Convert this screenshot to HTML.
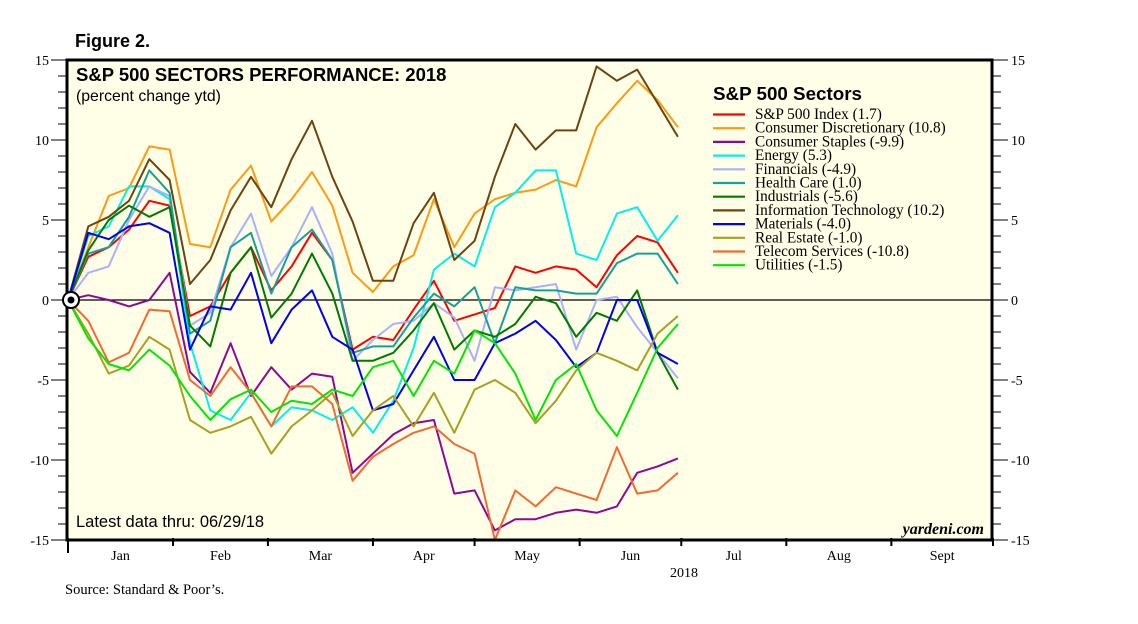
<!DOCTYPE html>
<html><head><meta charset="utf-8">
<style>
body{margin:0;background:#fff;}
svg{display:block;}
.sans{font-family:"Liberation Sans",sans-serif;}
.serif{font-family:"Liberation Serif",serif;}
</style></head>
<body>
<svg id="chart" width="1138" height="624" xmlns="http://www.w3.org/2000/svg">
<text x="75" y="47" class="sans" font-size="18" font-weight="bold">Figure 2.</text>
<rect x="67" y="60" width="925" height="480" fill="#fffee6" stroke="none"/>
<g id="grid"></g>
<g id="series"></g>
<rect x="67" y="60" width="925" height="480" fill="none" stroke="#000" stroke-width="3"/>
<text x="76" y="81" class="sans" font-size="18.5" font-weight="bold">S&amp;P 500 SECTORS PERFORMANCE: 2018</text>
<text x="76" y="101" class="sans" font-size="15.8">(percent change ytd)</text>
<text x="76" y="527" class="sans" font-size="16.5">Latest data thru: 06/29/18</text>
<text x="984" y="534" class="serif" font-size="16" font-style="italic" font-weight="bold" text-anchor="end">yardeni.com</text>
<text x="713" y="100" class="sans" font-size="18.8" font-weight="bold">S&amp;P 500 Sectors</text>
<g id="legend"></g>
<g id="axes"></g>
<text x="684" y="577" class="serif" font-size="14" text-anchor="middle">2018</text>
<text x="65" y="594" class="serif" font-size="14.5">Source: Standard &amp; Poor’s.</text>
<circle cx="71" cy="300" r="8" fill="#fff" stroke="#000" stroke-width="2"/>
<circle cx="71" cy="300" r="3.5" fill="#000"/>
</svg>
<script>
// days since Jan 1 for each observation
const days = [0,6,12,18,24,30,36,42,48,54,60,66,72,78,84,90,96,102,108,114,120,126,132,138,144,150,156,162,168,174,180];
const seriesNames = ["S&P 500 Index (1.7)","Consumer Discretionary (10.8)","Consumer Staples (-9.9)","Energy (5.3)","Financials (-4.9)","Health Care (1.0)","Industrials (-5.6)","Information Technology (10.2)","Materials (-4.0)","Real Estate (-1.0)","Telecom Services (-10.8)","Utilities (-1.5)"];
const seriesColors = ["#ff0000","#ff9a10","#8e0898","#00f0f0","#aab0ff","#15a0a0","#007a00","#6e4410","#0000f0","#a8a020","#f26a30","#00e800"];
const spx  = [0,2.7,3.3,4.4,6.2,5.9,-1.0,-0.4,1.7,3.3,0.6,2.1,4.2,2.5,-3.1,-2.3,-2.5,-0.6,1.2,-1.3,-0.9,-0.5,2.1,1.7,2.1,1.9,0.8,2.8,4.0,3.6,1.7];
const disc = [0,3.3,6.5,7.0,9.6,9.4,3.5,3.3,6.9,8.4,4.9,6.3,8.0,5.9,1.7,0.5,2.1,2.8,6.3,3.3,5.4,6.3,6.7,6.9,7.5,7.1,10.8,12.3,13.7,12.5,10.8];
const stap = [0,0.3,0,-0.4,0,1.7,-4.5,-5.8,-2.7,-6.0,-4.2,-5.6,-4.6,-4.8,-10.8,-9.6,-8.4,-7.7,-7.5,-12.1,-11.9,-14.4,-13.7,-13.7,-13.3,-13.1,-13.3,-12.9,-10.8,-10.4,-9.9];
const enrg = [0,4.0,4.6,7.1,7.1,6.3,-2.7,-6.9,-7.5,-5.8,-7.9,-6.7,-6.9,-7.5,-6.7,-8.3,-6.3,-3.0,1.9,2.9,2.1,5.8,6.7,8.1,8.1,2.9,2.5,5.4,5.8,3.7,5.3];
const finl = [0,1.7,2.1,5.0,7.1,6.5,-1.6,-0.8,3.3,5.4,1.5,3.3,5.8,2.9,-3.8,-2.5,-1.5,-1.3,-0.2,-1.1,-3.8,0.8,0.6,0.8,1.0,-3.1,0,0.2,-1.7,-3.3,-4.9];
const hlth = [0,2.9,3.3,5.2,8.1,6.7,-2.1,-1.3,3.3,4.2,0.4,3.3,4.4,2.5,-3.3,-2.9,-2.9,-1.1,0.4,-0.4,0.8,-2.7,0.8,0.6,0.6,0.4,0.4,2.3,2.9,2.9,1.0];
const indu = [0,3.1,5.0,5.9,5.2,5.8,-1.6,-2.9,1.7,3.3,-1.1,0.4,2.9,0.4,-3.8,-3.8,-3.3,-1.9,-0.2,-3.1,-1.9,-2.3,-1.5,0.2,-0.2,-2.3,-0.8,-1.3,0.6,-3.3,-5.6];
const tech = [0,4.6,5.2,6.2,8.8,7.5,1.0,2.5,5.6,7.7,5.8,8.8,11.2,7.7,4.9,1.2,1.2,4.8,6.7,2.5,3.7,7.7,11.0,9.4,10.6,10.6,14.6,13.7,14.4,12.3,10.2];
const matl = [0,4.2,3.8,4.6,4.8,4.2,-3.1,-0.4,-0.6,1.7,-2.7,-0.6,0.6,-2.3,-3.1,-6.9,-6.5,-4.4,-2.3,-5.0,-5.0,-2.7,-2.1,-1.3,-2.5,-4.2,-3.3,0,0,-3.3,-4.0];
const real = [0,-2.1,-4.6,-4.1,-2.3,-3.1,-7.5,-8.3,-7.9,-7.3,-9.6,-7.9,-6.9,-5.8,-8.5,-6.9,-6.0,-7.9,-5.8,-8.3,-5.6,-5.0,-5.8,-7.7,-6.3,-4.4,-3.3,-3.8,-4.4,-2.1,-1.0];
const tele = [0,-1.3,-3.9,-3.3,-0.6,-0.7,-5.0,-6.0,-4.2,-5.8,-7.9,-5.4,-5.4,-6.5,-11.3,-9.8,-9.0,-8.3,-7.9,-9.0,-9.6,-15.0,-11.9,-12.9,-11.7,-12.1,-12.5,-9.2,-12.1,-11.9,-10.8];
const util = [0,-2.4,-4.0,-4.4,-3.1,-4.1,-6.0,-7.5,-6.2,-5.6,-7.0,-6.3,-6.5,-5.6,-6.0,-4.2,-3.8,-6.0,-3.8,-4.6,-1.9,-2.7,-4.6,-7.5,-5.0,-4.0,-6.9,-8.5,-5.8,-3.0,-1.5];
const yTicks = [15,10,5,0,-5,-10,-15];
const monthLabels = ["Jan","Feb","Mar","Apr","May","Jun","Jul","Aug","Sept"];
const monthStartDays = [0,31,59,90,120,151,181,212,243,273];

const allSeries = [spx,disc,stap,enrg,finl,hlth,indu,tech,matl,real,tele,util];
const seriesKeys = ["sp500","consumer-discretionary","consumer-staples","energy","financials","health-care","industrials","information-technology","materials","real-estate","telecom-services","utilities"];
const X0=68, X1=993, Y0=540, Y1=60;
const xs = d => X0 + d*(X1-X0)/273;
const ys = v => Y0 - (v+15)*(Y0-Y1)/30;
const NS="http://www.w3.org/2000/svg";
function mk(tag, attrs, parent){const e=document.createElementNS(NS,tag);for(const k in attrs)e.setAttribute(k,attrs[k]);parent.appendChild(e);return e;}

const grid=document.getElementById('grid');
let zl=mk('line',{x1:X0,x2:X1,y1:ys(0),y2:ys(0),stroke:'#000','stroke-width':1.2},grid);



const sg=document.getElementById('series');
allSeries.forEach((arr,i)=>{
  const pts=arr.map((v,j)=>xs(days[j]).toFixed(1)+','+ys(v).toFixed(1)).join(' ');
  const p=mk('polyline',{points:pts,fill:'none',stroke:seriesColors[i],'stroke-width':2,'stroke-linejoin':'round'},sg);
  
  
});

const lg=document.getElementById('legend');
seriesNames.forEach((n,i)=>{
  const y=114.5+i*13.7;
  const l=mk('line',{x1:713,x2:745,y1:y,y2:y,stroke:seriesColors[i],'stroke-width':2.2},lg);
  
  
  const t=mk('text',{x:755,y:y+4.5,'font-size':15.3,'class':'serif'},lg);
  t.textContent=n;
  
  
});

const ax=document.getElementById('axes');
for(let v=-15; v<=15; v++){
  const y=ys(v), major=(v%5===0);
  mk('line',{x1:major?51:58,x2:66,y1:y,y2:y,stroke:'#000','stroke-width':1},ax);
  mk('line',{x1:993,x2:major?1008:1001,y1:y,y2:y,stroke:'#000','stroke-width':1},ax);
}
yTicks.forEach(v=>{
  const t=mk('text',{x:49,y:ys(v)+5,'font-size':14,'text-anchor':'end','class':'serif'},ax);
  t.textContent=v;
  
  
  const t2=mk('text',{x:1011,y:ys(v)+5,'font-size':14,'class':'serif'},ax);
  t2.textContent=v;
  
  
});
monthStartDays.forEach((d,i)=>{
  const x=xs(d);
  mk('line',{x1:x,x2:x,y1:538,y2:i===0?553:546,stroke:'#000','stroke-width':2},ax);
  if(i<monthLabels.length){
    const t=mk('text',{x:(xs(d)+xs(monthStartDays[i+1]))/2,y:560,'font-size':14,'text-anchor':'middle','class':'serif'},ax);
    t.textContent=monthLabels[i];
    
    
  }
});
</script>
</body></html>
